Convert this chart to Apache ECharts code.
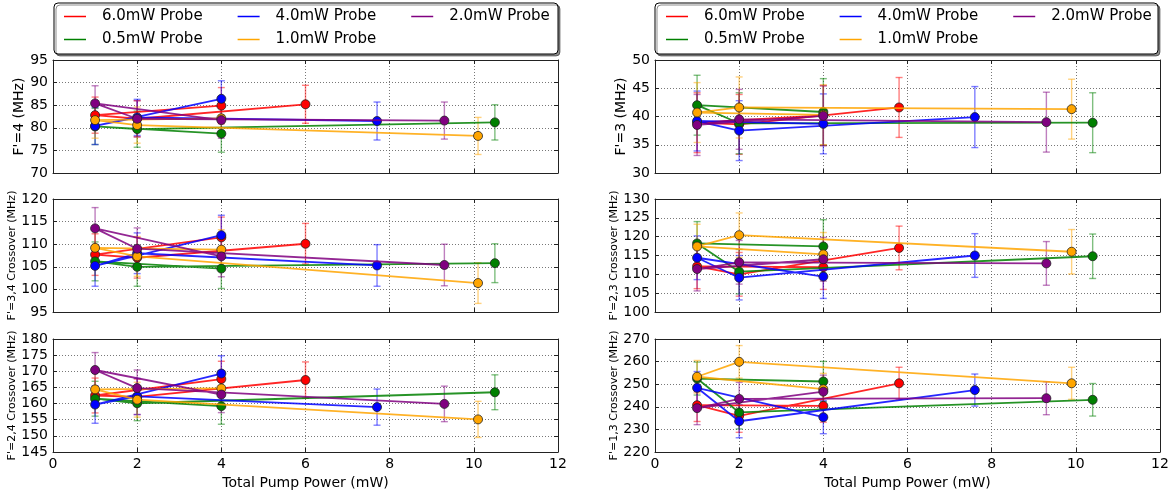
<!DOCTYPE html>
<html><head><meta charset="utf-8">
<script src="https://cdn.jsdelivr.net/npm/echarts@6/dist/echarts.min.js"></script>
<style>html,body{margin:0;padding:0;background:#fff}#c{width:1174px;height:497px}</style>
</head><body><div id="c"></div>
<script>
// ---- data ----
const seriesNames = ['6.0mW Probe', '0.5mW Probe', '4.0mW Probe', '1.0mW Probe', '2.0mW Probe'];
const seriesColors = ['#ff0000', '#008000', '#0000ff', '#ffa500', '#800080'];
const legendRow1 = ['6.0mW Probe', '4.0mW Probe', '2.0mW Probe'];
const legendRow2 = ['0.5mW Probe', '1.0mW Probe'];
const xTickLabels = [0, 2, 4, 6, 8, 10, 12];
// point order in every series: 4 mW, 1 mW, 2 mW, combined power
const xLeft  = [[4, 1, 2, 6.0], [4, 1, 2, 10.5], [4, 1, 2, 7.7], [4, 1, 2, 10.1], [4, 1, 2, 9.3]];
const xRight = [[4, 1, 2, 5.8], [4, 1, 2, 10.4], [4, 1, 2, 7.6], [4, 1, 2, 9.9], [4, 1, 2, 9.3]];

const f4Values  = [[84.9, 82.8, 82.0, 85.2], [78.7, 80.3, 79.7, 81.2], [86.4, 80.4, 82.3, 81.5], [82.1, 81.7, 80.6, 78.2], [81.7, 85.4, 82.0, 81.6]];
const f4Errors  = [[4.0, 4.0, 4.0, 4.2], [4.1, 4.0, 4.0, 3.9], [4.0, 4.1, 4.0, 4.2], [4.0, 4.0, 4.0, 4.1], [4.0, 3.9, 4.0, 4.1]];
const f34Values = [[111.5, 107.7, 107.0, 110.1], [104.6, 106.2, 105.0, 105.8], [112.0, 105.2, 108.0, 105.3], [108.8, 109.2, 107.3, 101.4], [107.3, 113.5, 109.0, 105.4]];
const f34Errors = [[4.5, 4.6, 4.5, 4.5], [4.4, 4.3, 4.3, 4.3], [4.4, 4.5, 4.5, 4.6], [4.4, 4.5, 4.4, 4.5], [4.5, 4.6, 4.6, 4.6]];
const f24Values = [[167.6, 162.5, 162.1, 167.3], [159.2, 161.5, 160.1, 163.5], [169.3, 159.7, 162.2, 158.9], [164.7, 164.4, 161.2, 155.1], [162.8, 170.4, 164.8, 159.9]];
const f24Errors = [[5.5, 5.4, 5.5, 5.6], [5.6, 5.4, 5.4, 5.4], [5.5, 5.8, 5.6, 5.6], [5.5, 5.5, 5.4, 5.6], [5.6, 5.4, 5.6, 5.5]];
const f3Values  = [[40.2, 38.9, 38.6, 41.6], [40.8, 42.0, 38.8, 38.9], [38.7, 39.2, 37.5, 39.9], [40.3, 40.7, 41.6, 41.3], [40.1, 38.5, 39.5, 39.0]];
const f3Errors  = [[5.3, 5.3, 5.3, 5.3], [5.9, 5.3, 5.4, 5.3], [5.3, 5.3, 5.3, 5.4], [5.3, 5.3, 5.4, 5.3], [5.3, 5.4, 5.3, 5.3]];
const f23Values = [[111.9, 112.1, 110.0, 117.0], [117.4, 118.2, 110.7, 114.8], [109.4, 114.4, 109.1, 115.0], [115.3, 117.4, 120.4, 116.0], [114.0, 111.4, 113.2, 112.9]];
const f23Errors = [[5.9, 5.9, 5.8, 5.8], [7.1, 5.8, 5.9, 5.9], [5.8, 5.8, 5.9, 5.8], [5.8, 5.9, 5.9, 5.9], [5.8, 5.8, 5.8, 5.8]];
const f13Values = [[240.4, 240.7, 236.0, 250.4], [251.2, 252.5, 237.5, 243.1], [235.4, 248.4, 233.6, 247.4], [247.8, 253.3, 259.9, 250.4], [246.7, 239.4, 243.5, 243.8]];
const f13Errors = [[7.2, 7.2, 7.3, 7.1], [8.9, 7.3, 7.3, 7.2], [7.3, 7.2, 7.3, 7.1], [7.0, 7.2, 7.2, 7.1], [7.3, 7.3, 7.3, 7.3]];

// ---- layout ----
const FONT = 'DejaVu Sans';
const panels = [
  {x: xLeft,  v: f4Values,  e: f4Errors,  min: 70,  max: 95,  step: 5,  name: "F'=4 (MHz)",              nfs: 14, left: 53,  top: 60,  bottom: false},
  {x: xLeft,  v: f34Values, e: f34Errors, min: 95,  max: 120, step: 5,  name: "F'=3,4 Crossover (MHz)",  nfs: 11, left: 53,  top: 199, bottom: false},
  {x: xLeft,  v: f24Values, e: f24Errors, min: 145, max: 180, step: 5,  name: "F'=2,4 Crossover (MHz)",  nfs: 11, left: 53,  top: 339, bottom: true},
  {x: xRight, v: f3Values,  e: f3Errors,  min: 30,  max: 50,  step: 5,  name: "F'=3 (MHz)",              nfs: 14, left: 655, top: 60,  bottom: false},
  {x: xRight, v: f23Values, e: f23Errors, min: 100, max: 130, step: 5,  name: "F'=2,3 Crossover (MHz)",  nfs: 11, left: 655, top: 199, bottom: false},
  {x: xRight, v: f13Values, e: f13Errors, min: 220, max: 270, step: 10, name: "F'=1,3 Crossover (MHz)",  nfs: 11, left: 655, top: 339, bottom: true}
];

function errRender(color) {
  return function (params, api) {
    const x = api.value(0), y = api.value(1), e = api.value(2);
    const t = api.coord([x, y + e]), b = api.coord([x, y - e]);
    const cap = 3.5;
    const st = () => ({stroke: color, lineWidth: 1.4, opacity: 0.5});
    return {type: 'group', children: [
      {type: 'line', shape: {x1: t[0], y1: t[1], x2: b[0], y2: b[1]}, style: st()},
      {type: 'line', shape: {x1: t[0] - cap, y1: t[1], x2: t[0] + cap, y2: t[1]}, style: st()},
      {type: 'line', shape: {x1: b[0] - cap, y1: b[1], x2: b[0] + cap, y2: b[1]}, style: st()}
    ]};
  };
}

const FRAME = '#222';
const grids = [], xAxes = [], yAxes = [], series = [];
panels.forEach((p, i) => {
  grids.push({left: p.left, top: p.top, width: 505, height: 113, show: false});
  xAxes.push({
    type: 'value', gridIndex: i, position: 'bottom', min: xTickLabels[0], max: xTickLabels[xTickLabels.length - 1], interval: 2,
    axisLine: {show: true, onZero: false, lineStyle: {color: FRAME, width: 1}},
    axisTick: {show: true, inside: true, length: 4, lineStyle: {color: FRAME}},
    axisLabel: {show: p.bottom, fontSize: 14, color: '#000', fontFamily: FONT, margin: 5, showMinLabel: true, showMaxLabel: true},
    splitLine: {show: true, lineStyle: {type: [1, 2], color: '#555', width: 0.8}},
    name: p.bottom ? 'Total Pump Power (mW)' : '', nameLocation: 'middle', nameGap: 24,
    nameTextStyle: {fontSize: 14, color: '#000', fontFamily: FONT}
  });
  xAxes.push({
    type: 'value', gridIndex: i, position: 'top', min: xTickLabels[0], max: xTickLabels[xTickLabels.length - 1], interval: 2,
    axisLine: {show: true, onZero: false, lineStyle: {color: FRAME, width: 1}},
    axisTick: {show: true, inside: true, length: 4, lineStyle: {color: FRAME}},
    axisLabel: {show: false}, splitLine: {show: false}
  });
  yAxes.push({
    type: 'value', gridIndex: i, position: 'left', min: p.min, max: p.max, interval: p.step,
    axisLine: {show: true, onZero: false, lineStyle: {color: FRAME, width: 1}},
    axisTick: {show: true, inside: true, length: 4, lineStyle: {color: FRAME}},
    axisLabel: {fontSize: 14, color: '#000', fontFamily: FONT, margin: 5},
    splitLine: {show: true, lineStyle: {type: [1, 2], color: '#555', width: 0.8}},
    name: p.name, nameLocation: 'middle', nameGap: p.nfs === 14 ? 26 : 32,
    nameTextStyle: {fontSize: p.nfs, color: '#000', fontFamily: FONT}
  });
  yAxes.push({
    type: 'value', gridIndex: i, position: 'right', min: p.min, max: p.max, interval: p.step,
    axisLine: {show: true, onZero: false, lineStyle: {color: FRAME, width: 1}},
    axisTick: {show: true, inside: true, length: 4, lineStyle: {color: FRAME}},
    axisLabel: {show: false}, splitLine: {show: false}
  });
  seriesNames.forEach((nm, s) => {
    const pts = p.x[s].map((xv, k) => [xv, p.v[s][k], p.e[s][k]]);
    series.push({
      type: 'line', name: nm, xAxisIndex: 2 * i, yAxisIndex: 2 * i, z: 3 + s,
      data: pts.map(d => [d[0], d[1]]), symbol: 'circle', symbolSize: 9, showSymbol: true,
      lineStyle: {color: seriesColors[s], width: 1.8, opacity: 0.85},
      itemStyle: {color: seriesColors[s], borderColor: '#222', borderWidth: 0.8},
      emphasis: {disabled: true}
    });
    series.push({
      type: 'custom', name: nm, xAxisIndex: 2 * i, yAxisIndex: 2 * i, z: 2,
      itemStyle: {color: seriesColors[s]},
      renderItem: errRender(seriesColors[s]), encode: {x: 0, y: 1}, data: pts, silent: true
    });
  });
});

function legendRow(data, left, top) {
  return {
    data: data, left: left, top: top, orient: 'horizontal', icon: 'rect', itemWidth: 22, itemHeight: 1.5,
    itemGap: 35, padding: 0, z: 10, selectedMode: false,
    itemStyle: {borderWidth: 0},
    textStyle: {fontSize: 15, color: '#000', fontFamily: FONT, padding: [0, 0, 0, 11]}
  };
}

const option = {
  animation: false,
  backgroundColor: '#fff',
  grid: grids, xAxis: xAxes, yAxis: yAxes, series: series,
  legend: [
    legendRow(legendRow1, 64, 9), legendRow(legendRow2, 64, 32),
    legendRow(legendRow1, 666, 9), legendRow(legendRow2, 666, 32)
  ],
  graphic: [
    {type: 'rect', z: 1, shape: {x: 54, y: 3, width: 504, height: 51, r: 4},
     style: {fill: '#fff', stroke: '#000', lineWidth: 1, shadowColor: 'rgba(0,0,0,0.45)', shadowOffsetX: 2, shadowOffsetY: 2}},
    {type: 'rect', z: 1, shape: {x: 655, y: 3, width: 503, height: 51, r: 4},
     style: {fill: '#fff', stroke: '#000', lineWidth: 1, shadowColor: 'rgba(0,0,0,0.45)', shadowOffsetX: 2, shadowOffsetY: 2}}
  ]
};
const chart = echarts.init(document.getElementById('c'), null, {renderer: 'canvas'});
chart.setOption(option);
</script></body></html>
